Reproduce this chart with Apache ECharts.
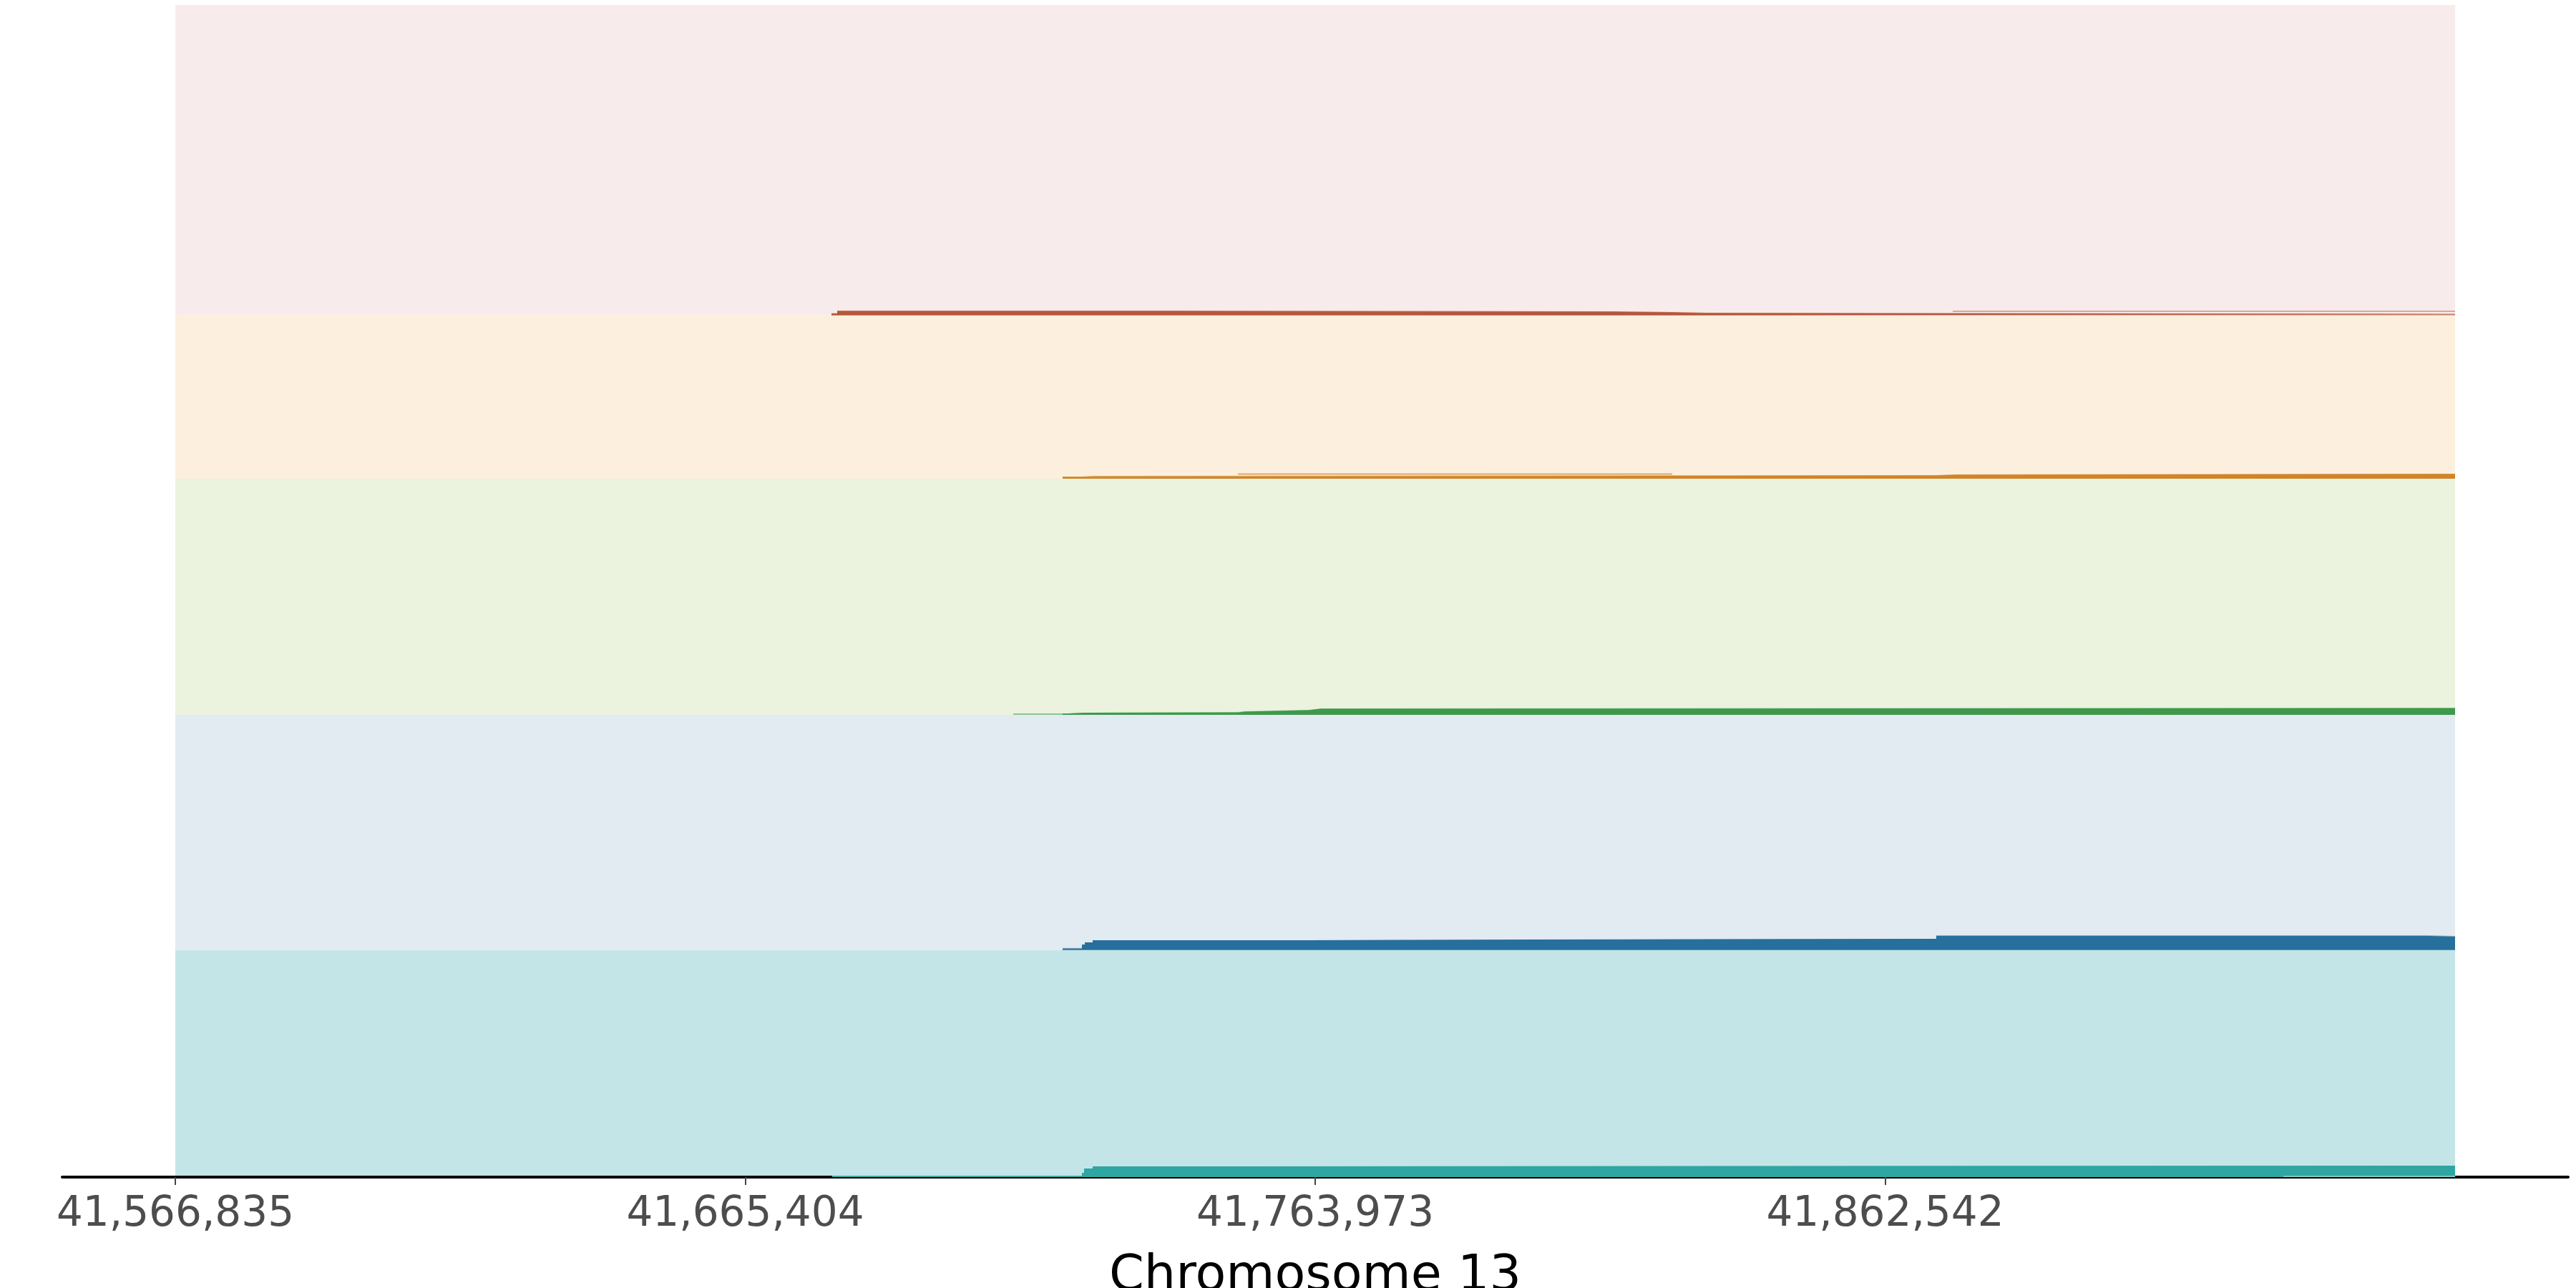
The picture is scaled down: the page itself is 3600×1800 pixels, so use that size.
<!DOCTYPE html>
<html>
<head>
<meta charset="utf-8">
<script src="https://cdn.jsdelivr.net/npm/echarts@6/dist/echarts.min.js"></script>
<style>html,body{margin:0;padding:0;background:#fff}#c{width:3600px;height:1800px}</style>
</head>
<body>
<div id="c"></div>
<script>
// ---- data (genomic position, depth) ----
const xMin = 41566835;
const xMax = 41961111;
const tickValues = [41566835, 41665404, 41763973, 41862542];
const axisTitle = 'Chromosome 13';

// track 1 (red)
const redEnvelope = [[41680314, 3], [41681304, 6.7], [41739343, 5.7], [41815449, 4.7], [41825720, 3.7], [41831784, 2.2], [41961111, 2.2]];
const redCore     = [[41680314, 2.5], [41681304, 5.7], [41739343, 4.9], [41815449, 4.0], [41825720, 3.0], [41831784, 2.0], [41961111, 2.0]];
const redFaint    = [[41874230, 5.7], [41961111, 5.7]];
// track 2 (orange)
const orangeEnvelope = [[41720285, 3], [41723626, 4], [41725606, 5], [41871384, 6], [41874849, 7], [41961111, 7]];
const orangeCore     = [[41720285, 2.5], [41725606, 4.5], [41871384, 5.5], [41874849, 6.5], [41961111, 6.5]];
const orangeFaint    = [[41750604, 6.5], [41825720, 6.5]];
// track 3 (green)
const greenEnvelope = [[41711746, 2], [41720285, 2], [41721151, 3], [41724121, 4], [41750604, 5], [41751841, 7], [41762855, 9], [41764959, 10], [41961111, 10]];
const greenCore     = [[41720285, 1.8], [41721151, 3], [41724121, 3.2], [41750604, 4.5], [41751841, 6.5], [41762855, 8.5], [41764959, 9.3], [41961111, 9.3]];
// track 4 (blue)
const blueEnvelope = [[41720285, 3], [41723626, 7.7], [41724121, 10.7], [41725483, 13.7], [41762608, 15.7], [41871384, 20.7], [41956276, 19.7], [41961111, 19.7]];
const blueCore     = [[41720285, 2], [41723626, 7.7], [41724121, 10.7], [41725483, 13.7], [41762608, 14.7], [41801836, 15.7], [41871384, 19.7], [41956276, 18.7], [41961111, 18.7]];
// track 5 (teal)
const tealEnvelope = [[41680438, 2], [41723626, 6], [41723998, 12], [41725483, 15], [41751841, 16], [41961111, 16]];
const tealCore     = [[41680438, 1.6], [41723626, 6], [41723998, 12], [41725483, 15], [41762608, 16], [41961111, 16]];
const tealFaint    = [[41931403, 1.0], [41961111, 1.0]];

// ---- layout / style ----
const L = 245, R = 3600 - 3431;
const bands = [
  {top: 7,      h: 433.7, bg: '#f8ebeb', dark: '#b5563c', light: '#c98068', faint: '#d7a89d'},
  {top: 440.7,  h: 228.3, bg: '#fcefde', dark: '#d08528', light: '#dca35f', faint: '#e2a865'},
  {top: 669,    h: 330,   bg: '#ebf2de', dark: '#3e994c', light: '#8ec590', faint: '#93c995'},
  {top: 999,    h: 328.7, bg: '#e2eaf2', dark: '#276f9c', light: '#8eaec4', faint: '#8eaec4'},
  {top: 1327.7, h: 317.3, bg: '#c4e5e7', dark: '#2fa6a2', light: '#6fc3bf', faint: '#7fcac6'}
];
const trackData = [
  {env: redEnvelope, core: redCore, faint: redFaint},
  {env: orangeEnvelope, core: orangeCore, faint: orangeFaint},
  {env: greenEnvelope, core: greenCore, faint: null},
  {env: blueEnvelope, core: blueCore, faint: null},
  {env: tealEnvelope, core: tealCore, faint: tealFaint}
];

const fmt = v => String(Math.round(v)).replace(/\B(?=(\d{3})+(?!\d))/g, ',');
const FONT = 'DejaVu Sans';

const grid = [], xAxis = [], yAxis = [], series = [];
bands.forEach((b, i) => {
  grid.push({left: L, right: R, top: b.top, height: b.h, show: true, backgroundColor: b.bg, borderWidth: 0,
    containLabel: false, outerBoundsMode: 'none'});
  const last = i === bands.length - 1;
  xAxis.push({
    type: 'value', gridIndex: i, min: xMin, max: xMax, show: last,
    offset: 3,
    axisLine: {show: false},
    splitLine: {show: false},
    axisTick: {show: true, inside: false, length: 11, lineStyle: {color: '#444', width: 2}, customValues: tickValues},
    axisLabel: {show: true, customValues: tickValues, formatter: fmt, color: '#4d4d4d', fontSize: 58, fontFamily: FONT, margin: 21},
    name: last ? axisTitle : '', nameLocation: 'middle', nameGap: 137,
    nameTextStyle: {color: '#000', fontSize: 70, fontFamily: FONT, verticalAlign: 'middle'}
  });
  yAxis.push({type: 'value', gridIndex: i, min: 0, max: b.h, show: false});
  const t = trackData[i];
  series.push({type: 'line', step: 'end', xAxisIndex: i, yAxisIndex: i, data: t.env, symbol: 'none', silent: true,
    lineStyle: {width: 0}, areaStyle: {color: b.light, opacity: 1}, z: 2});
  series.push({type: 'line', step: 'end', xAxisIndex: i, yAxisIndex: i, data: t.core, symbol: 'none', silent: true,
    lineStyle: {width: 0}, areaStyle: {color: b.dark, opacity: 1}, z: 3});
  if (t.faint) {
    series.push({type: 'line', step: 'end', xAxisIndex: i, yAxisIndex: i, data: t.faint, symbol: 'none', silent: true,
      lineStyle: {width: 2, color: b.faint}, z: 4});
  }
});

// long baseline axis spanning past the plot area
const bpPerPx = (xMax - xMin) / (3600 - L - R);
grid.push({left: 87, right: 11, top: 1327.7, height: 317.3, show: false, containLabel: false, outerBoundsMode: 'none'});
xAxis.push({
  type: 'value', gridIndex: 5, min: xMin - (L - 87) * bpPerPx, max: xMax + (R - 11) * bpPerPx,
  offset: 3, axisLine: {show: true, lineStyle: {color: '#000', width: 4}},
  axisTick: {show: false}, axisLabel: {show: false}, splitLine: {show: false}
});
yAxis.push({type: 'value', gridIndex: 5, min: 0, max: 1, show: false});

const chart = echarts.init(document.getElementById('c'), null, {renderer: 'canvas'});
chart.setOption({animation: false, backgroundColor: '#fff', grid, xAxis, yAxis, series});
</script>
</body>
</html>
